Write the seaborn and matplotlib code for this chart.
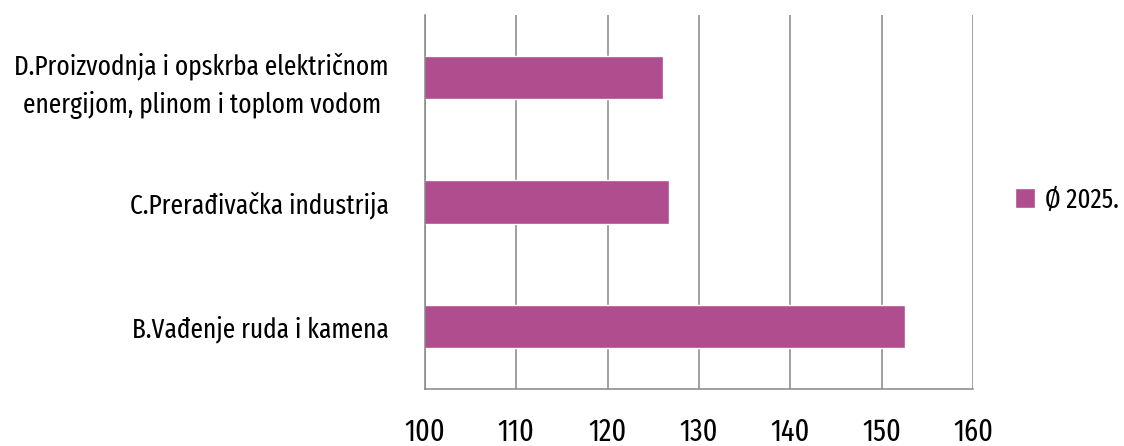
import matplotlib
matplotlib.use("Agg")
import matplotlib.pyplot as plt
import seaborn as sns
import pandas as pd

categories = [
    "D.Proizvodnja i opskrba električnom\nenergijom, plinom i toplom vodom",
    "C.Prerađivačka industrija",
    "B.Vađenje ruda i kamena",
]
values_2025 = [126.1, 126.7, 152.6]
series_name = "Ø 2025."
x_ticks = [100, 110, 120, 130, 140, 150, 160]

sns.set_theme(style="white")
plt.rcParams["font.family"] = ["Fira Sans Extra Condensed", "DejaVu Sans"]

df = pd.DataFrame({"Kategorija": categories, "Vrijednost": values_2025, "Serija": series_name})

fig = plt.figure(figsize=(11.24, 4.46), dpi=100)
ax = fig.add_axes([425 / 1124, 1 - 389 / 446, (973 - 425) / 1124, (389 - 15) / 446])

sns.barplot(data=df, x="Vrijednost", y="Kategorija", hue="Serija", orient="h",
            palette=["#AF4D8F"], width=0.35, ax=ax, legend=True, saturation=1)

ax.set_xlim(100, 160)
ax.set_ylim(2.5, -0.5)
ax.set_xticks(x_ticks)
ax.set_xticklabels([str(t) for t in x_ticks])
ax.grid(axis="x", color="#868686", linewidth=1.1)
ax.set_axisbelow(True)
for s in ["top", "right"]:
    ax.spines[s].set_visible(False)
for s in ["left", "bottom"]:
    ax.spines[s].set_color("#868686")
    ax.spines[s].set_linewidth(1.1)
ax.set_xlabel("")
ax.set_ylabel("")
ax.tick_params(axis="x", length=0, pad=20, labelsize=22, colors="black")
ax.tick_params(axis="y", length=0, pad=26, labelsize=19.8, colors="black")
for lbl in ax.get_yticklabels():
    lbl.set_multialignment("center")
    lbl.set_linespacing(1.5)

leg = ax.legend(loc="center left", bbox_to_anchor=(1015 / 1124, 1 - 200 / 446),
                bbox_transform=fig.transFigure, frameon=False, fontsize=19.5,
                handlelength=0.75, handleheight=0.75, handletextpad=0.35,
                borderpad=0, borderaxespad=0)
for t in leg.get_texts():
    t.set_color("black")

fig.savefig("out.png", dpi=100)
